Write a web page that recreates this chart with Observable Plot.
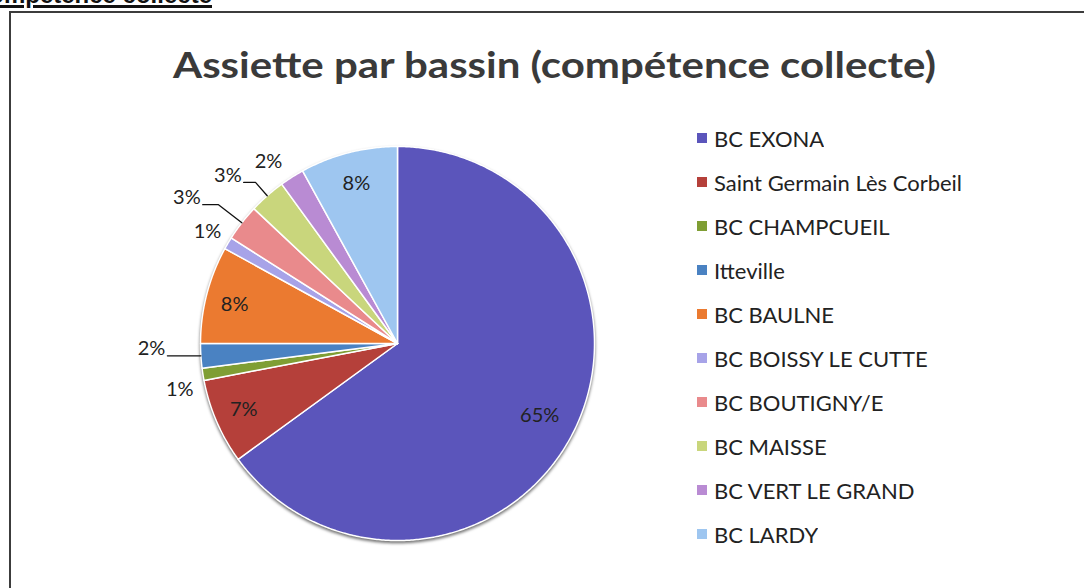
<!DOCTYPE html>
<html><head><meta charset="utf-8">
<script src="https://cdn.jsdelivr.net/npm/d3@7"></script>
<script src="https://cdn.jsdelivr.net/npm/@observablehq/plot@0.6"></script>
<style>
html,body{margin:0;padding:0;background:#fff;}
#wrap{position:relative;width:1084px;height:588px;overflow:hidden;font-family:Lato,sans-serif;background:#fff;}
#frame{position:absolute;left:9px;top:11px;width:1100px;height:600px;border:2px solid #3c3c3c;box-sizing:border-box;}
#head{position:absolute;right:872px;top:-17px;font:bold 24px "Liberation Sans",Arial,sans-serif;text-decoration:underline;text-decoration-thickness:3px;text-underline-offset:2px;white-space:nowrap;color:#111;line-height:24px;}
#chart{position:absolute;left:0;top:0;}
#legend{position:absolute;left:697px;top:116px;width:380px;}
#legend .lg-swatch{height:44px !important;padding:0 !important;margin:0 !important;font-size:22px !important;font-family:Lato,sans-serif !important;color:#222 !important;}
#legend .lg-swatch svg{margin-right:7px !important;}
#legend .lg-swatches{margin:0 !important;font-family:Lato,sans-serif !important;}
</style></head>
<body><div id="wrap"><div id="frame"></div><div id="head">Compétence collecte</div><div id="chart"></div><div id="legend"></div></div>
<script>
// ---- data ----
const title = "Assiette par bassin (compétence collecte)";
const categories = ["BC EXONA", "Saint Germain Lès Corbeil", "BC CHAMPCUEIL", "Itteville", "BC BAULNE",
  "BC BOISSY LE CUTTE", "BC BOUTIGNY/E", "BC MAISSE", "BC VERT LE GRAND", "BC LARDY"];
const values = [65, 7, 1, 2, 8, 1, 3, 3, 2, 8];
const colors = ["#5b55bb", "#b5403a", "#7f9e34", "#4a82c2", "#eb7a30",
  "#a7a3e8", "#e98a8c", "#c9d67c", "#b98bd3", "#9ec6f0"];

// ---- label layout (not data) ----
const labelLayout = [
  {r: 0.81}, {r: 0.85}, {r: 1.13, da: -3}, {elbow: 1.0, tail: 0.17}, {r: 0.85, da: -1},
  {r: 1.12}, {elbow: 1.15, tail: 0.08}, {elbow: 1.09, tail: 0.06}, {r: 1.13, da: -3}, {r: 0.84}
];

const data = categories.map((name, i) => ({name, value: values[i]}));
const total = d3.sum(values);
const arcs = d3.pie().sort(null).value(d => d.value)(data);

const slicePts = [];
arcs.forEach(a => {
  const name = a.data.name;
  const n = Math.max(2, Math.ceil((a.endAngle - a.startAngle) / (Math.PI / 360)));
  slicePts.push({name, x: 0, y: 0});
  for (let i = 0; i <= n; i++) {
    const t = a.startAngle + (a.endAngle - a.startAngle) * i / n;
    slicePts.push({name, x: Math.sin(t), y: Math.cos(t)});
  }
  slicePts.push({name, x: 0, y: 0});
});

const plainLabels = [], leaderLabels = [], leaderPts = [];
arcs.forEach((a, i) => {
  const L = labelLayout[i];
  const mid = (a.startAngle + a.endAngle) / 2 + (L.da || 0) * Math.PI / 180;
  const text = Math.round(a.data.value / total * 100) + "%";
  if (L.elbow === undefined) {
    plainLabels.push({x: L.r * Math.sin(mid), y: L.r * Math.cos(mid), text});
  } else {
    const ex = Math.sin(mid), ey = Math.cos(mid);
    const bx = L.elbow * ex, by = L.elbow * ey;
    const tx = bx - L.tail;
    leaderPts.push({name: a.data.name, x: ex, y: ey}, {name: a.data.name, x: bx, y: by}, {name: a.data.name, x: tx, y: by});
    leaderLabels.push({x: tx, y: by, text});
  }
});

const plot = Plot.plot({
  width: 1084, height: 588, margin: 0,
  style: {background: "transparent", fontFamily: "Lato, sans-serif", overflow: "visible"},
  x: {domain: [-1, 1], range: [200, 594], axis: null},
  y: {domain: [-1, 1], range: [540, 146], axis: null},
  color: {domain: categories, range: colors},
  marks: [
    Plot.line(slicePts, {x: "x", y: "y", z: "name", fill: "name", stroke: "white", strokeWidth: 1.5,
      strokeLinejoin: "round", imageFilter: "drop-shadow(0px 2px 1.5px rgba(0,0,0,0.55))"}),
    Plot.line(leaderPts, {x: "x", y: "y", z: "name", stroke: "#111", strokeWidth: 1.3}),
    Plot.text(plainLabels, {x: "x", y: "y", text: "text", fontSize: 20, fill: "#222"}),
    Plot.text(leaderLabels, {x: "x", y: "y", text: "text", textAnchor: "end", dx: -2, dy: -7, fontSize: 20, fill: "#222"}),
    Plot.text([title], {frameAnchor: "top", lineAnchor: "middle", text: d => d, dx: 12, dy: 66,
      fontSize: 37, fontWeight: "bold", fill: "#3a3a3a"})
  ]
});
plot.querySelectorAll("text").forEach(t => {
  if (t.textContent === title) {
    t.setAttribute("textLength", "763");
    t.setAttribute("lengthAdjust", "spacingAndGlyphs");
  }
});
document.getElementById("chart").appendChild(plot);

const legend = Plot.legend({
  color: {domain: categories, range: colors},
  legend: "swatches", columns: 1, swatchSize: 10, className: "lg"
});
document.getElementById("legend").appendChild(legend);
</script>
</body></html>
